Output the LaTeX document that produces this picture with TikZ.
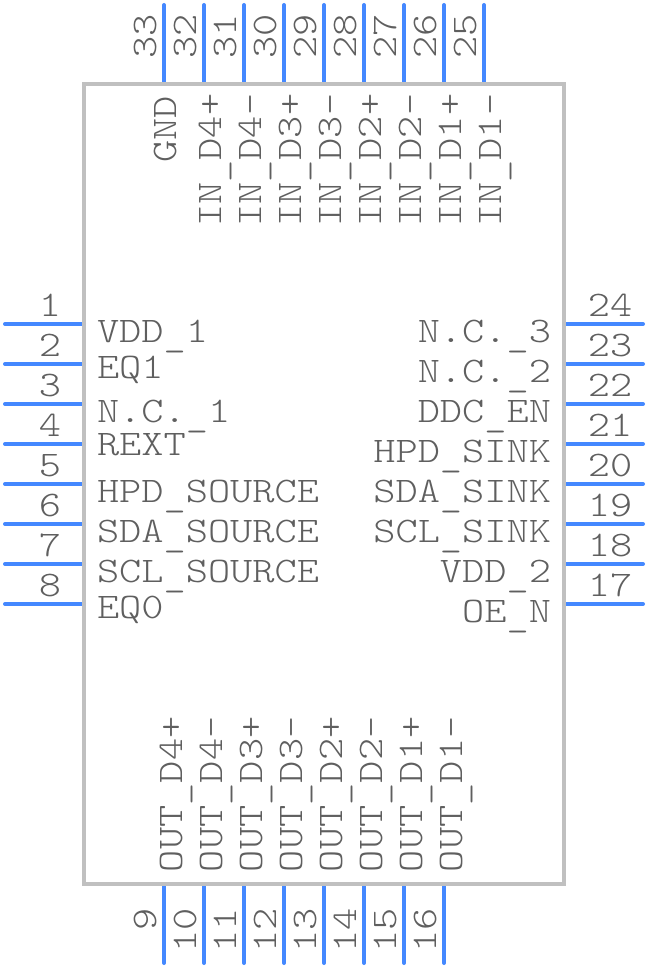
\documentclass[tikz,border=0pt]{standalone}
\usepackage{fontspec}
\newfontfamily\pinfont{Latin Modern Mono Light}[FakeStretch=1.175]
\newcommand{\usc}{\raisebox{-4pt}{\_}}
\definecolor{pinblue}{HTML}{4488FF}
\definecolor{boxgray}{HTML}{C0C0C0}
\definecolor{txtgray}{HTML}{5F5F5F}
\tikzset{
  x=1pt,y=-1pt,
  pinline/.style={draw=pinblue,line width=4pt,line cap=round},
  bodybox/.style={draw=boxgray,line width=4pt,outer sep=0pt},
  lbl/.style={inner sep=0pt,outer sep=0pt,text=txtgray,font=\pinfont\fontsize{36}{36}\selectfont},
}
\begin{document}
\begin{tikzpicture}
\useasboundingbox (0,0) rectangle (648,968);
% left pins
\foreach \n [count=\i from 0] in {1,...,8}{
  \coordinate (pa\n) at (5,324+40*\i);
  \coordinate (pb\n) at (84,324+40*\i);
  \draw[pinline] (pa\n) -- (pb\n);
  \node[lbl,anchor=base] (num\n) at (50,316+40*\i) {\n};
}
% bottom pins
\foreach \n [count=\i from 0] in {9,...,16}{
  \coordinate (pa\n) at (164+40*\i,884);
  \coordinate (pb\n) at (164+40*\i,963);
  \draw[pinline] (pa\n) -- (pb\n);
  \node[lbl,anchor=base east,rotate=90] (num\n) at (156+40*\i,908) {\n};
}
% right pins
\foreach \n [count=\i from 0] in {17,...,24}{
  \coordinate (pa\n) at (564,604-40*\i);
  \coordinate (pb\n) at (643,604-40*\i);
  \draw[pinline] (pa\n) -- (pb\n);
  \node[lbl,anchor=base] (num\n) at (610,596-40*\i) {\n};
}
% top pins
\foreach \n [count=\i from 0] in {25,...,33}{
  \coordinate (pa\n) at (484-40*\i,84);
  \coordinate (pb\n) at (484-40*\i,5);
  \draw[pinline] (pa\n) -- (pb\n);
  \node[lbl,anchor=base west,rotate=90] (num\n) at (476-40*\i,59) {\n};
}
\node[bodybox,minimum width=480pt,minimum height=800pt,inner sep=0pt,anchor=north west] (body) at (84,84) {};
% left labels
\foreach \t/\yy [count=\i] in {VDD\usc 1/342,EQ1/378,N.C.\usc 1/422,REXT/455,HPD\usc SOURCE/502,SDA\usc SOURCE/542,SCL\usc SOURCE/582,EQ0/618}{
  \node[lbl,anchor=base west] (ll\i) at (97,\yy) {\t};
}
% right labels
\foreach \t/\yy [count=\i] in {N.C.\usc 3/342,N.C.\usc 2/382,DDC\usc EN/422,HPD\usc SINK/462,SDA\usc SINK/502,SCL\usc SINK/542,VDD\usc 2/582,OE\usc N/622}{
  \node[lbl,anchor=base east] (rl\i) at (551,\yy) {\t};
}
% top labels
\node[lbl,anchor=base east,rotate=90] (tgnd) at (176,96) {GND};
\foreach \t [count=\i from 0] in {IN\usc D4+,IN\usc D4-,IN\usc D3+,IN\usc D3-,IN\usc D2+,IN\usc D2-,IN\usc D1+,IN\usc D1-}{
  \node[lbl,anchor=base west,rotate=90] (tl\i) at (221+40*\i,227) {\t};
}
% bottom labels
\foreach \t [count=\i from 0] in {OUT\usc D4+,OUT\usc D4-,OUT\usc D3+,OUT\usc D3-,OUT\usc D2+,OUT\usc D2-,OUT\usc D1+,OUT\usc D1-}{
  \node[lbl,anchor=base west,rotate=90] (bl\i) at (182+40*\i,872) {\t};
}
\end{tikzpicture}
\end{document}
